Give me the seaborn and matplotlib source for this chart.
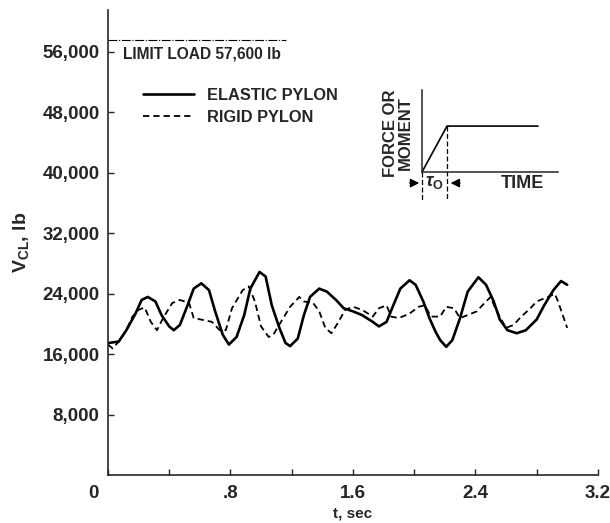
import numpy as np
import pandas as pd
import matplotlib
matplotlib.use("Agg")
import matplotlib.pyplot as plt
import matplotlib.transforms as mtransforms
import seaborn as sns

# elastic pylon (solid), V in thousands of lb
t_elastic = [0.00, 0.07, 0.12, 0.18, 0.22, 0.26, 0.31, 0.35, 0.40, 0.43, 0.47, 0.52, 0.56,
             0.61, 0.66, 0.70, 0.75, 0.79, 0.84, 0.89, 0.93, 0.99, 1.03, 1.07, 1.12,
             1.16, 1.19, 1.24, 1.28, 1.32, 1.38, 1.43, 1.49, 1.54, 1.60, 1.66, 1.73,
             1.77, 1.82, 1.86, 1.91, 1.97, 2.01, 2.06, 2.10, 2.14, 2.17, 2.21, 2.25,
             2.30, 2.35, 2.42, 2.47, 2.52, 2.56, 2.61, 2.67, 2.73, 2.80, 2.85, 2.91,
             2.96, 3.00]
v_elastic = [17.5, 17.7, 19.2, 21.4, 23.2, 23.6, 23.0, 21.2, 19.7, 19.2, 19.9, 22.5, 24.7,
             25.4, 24.5, 21.7, 18.6, 17.3, 18.3, 21.2, 24.7, 26.9, 26.3, 22.5, 19.5,
             17.5, 17.1, 18.1, 21.2, 23.6, 24.7, 24.3, 23.2, 22.1, 21.7, 21.2, 20.3,
             19.7, 20.3, 22.3, 24.7, 25.8, 25.2, 23.0, 20.8, 19.0, 17.9, 17.0, 17.9,
             20.8, 24.3, 26.2, 25.2, 23.0, 20.6, 19.2, 18.8, 19.2, 20.6, 22.5, 24.5,
             25.7, 25.2]

# rigid pylon (dashed)
t_rigid = [0.00, 0.03, 0.08, 0.12, 0.16, 0.20, 0.24, 0.28, 0.32, 0.36, 0.42, 0.47, 0.53,
           0.56, 0.61, 0.68, 0.73, 0.77, 0.81, 0.88, 0.92, 0.96, 1.00, 1.05, 1.08,
           1.13, 1.19, 1.25, 1.28, 1.34, 1.38, 1.42, 1.46, 1.50, 1.55, 1.60, 1.66,
           1.73, 1.77, 1.82, 1.85, 1.90, 1.97, 2.03, 2.07, 2.11, 2.17, 2.21, 2.26,
           2.30, 2.35, 2.41, 2.46, 2.50, 2.53, 2.57, 2.60, 2.65, 2.70, 2.76, 2.80,
           2.85, 2.92, 2.94, 3.00]
v_rigid = [17.3, 16.8, 17.9, 19.2, 21.0, 21.9, 22.2, 20.3, 19.2, 20.8, 22.8, 23.2, 22.8,
           20.8, 20.6, 20.3, 19.2, 19.2, 22.1, 24.5, 25.0, 23.0, 19.7, 18.3, 18.6,
           20.3, 22.3, 23.6, 23.0, 22.8, 21.7, 19.5, 18.8, 20.1, 21.9, 22.3, 21.9,
           21.0, 22.1, 22.5, 21.0, 20.8, 21.4, 22.3, 22.5, 21.0, 21.0, 22.3, 22.1,
           20.8, 21.2, 21.7, 22.8, 23.6, 22.1, 20.6, 19.5, 19.9, 21.0, 22.1, 23.0,
           23.4, 24.0, 23.0, 19.5]

limit_load = 57600
limit_line_end = 1.16
x_major = [0, 0.8, 1.6, 2.4, 3.2]
x_major_labels = ["0", ".8", "1.6", "2.4", "3.2"]
x_minor = [0.4, 1.2, 2.0, 2.8]
y_ticks = [8000, 16000, 24000, 32000, 40000, 48000, 56000]

df = pd.concat([
    pd.DataFrame({"t": t_elastic, "V": np.array(v_elastic) * 1000, "case": "ELASTIC PYLON"}),
    pd.DataFrame({"t": t_rigid, "V": np.array(v_rigid) * 1000, "case": "RIGID PYLON"}),
])

sns.set_style("ticks")
plt.rcParams["font.family"] = ["Liberation Sans", "DejaVu Sans"]
plt.rcParams["mathtext.fontset"] = "custom"
plt.rcParams["mathtext.rm"] = "Liberation Sans:bold"
plt.rcParams["mathtext.it"] = "Liberation Sans:italic:bold"

fig = plt.figure(figsize=(6.1, 5.23), dpi=100)
ax = fig.add_axes([0.177, 0.091, 0.803, 0.890])

el = df[df["case"] == "ELASTIC PYLON"]
rg = df[df["case"] == "RIGID PYLON"]
sns.lineplot(data=el, x="t", y="V", color="black", lw=1.9, label="ELASTIC PYLON",
             sort=False, ax=ax, solid_joinstyle="round", solid_capstyle="round")
sns.lineplot(data=rg, x="t", y="V", color="black", lw=1.3, linestyle=(0, (3.5, 2.2)),
             label="RIGID PYLON", sort=False, ax=ax)

ax.hlines(limit_load, 0, limit_line_end, color="black", lw=0.8,
          linestyle=(0, (8, 1.5, 1, 1.5)))
ax.text(0.031, 0.905, "LIMIT LOAD 57,600 lb", transform=ax.transAxes, fontsize=11.2,
        fontweight="bold", va="center", ha="left")

ax.set_xlim(0, 3.2)
ax.set_ylim(0, 61550)
ax.set_xticks(x_major)
ax.set_xticklabels(x_major_labels, fontsize=13.5, fontweight="bold")
ax.set_xticks(x_minor, minor=True)
ax.set_yticks(y_ticks)
ax.set_yticklabels([f"{v:,}" for v in y_ticks], fontsize=13.5, fontweight="bold")
ax.tick_params(axis="x", which="both", direction="in", length=4, width=1, pad=7)
ax.tick_params(axis="y", direction="in", length=4, width=1, pad=6)
off = mtransforms.ScaledTranslation(-0.15, 0, fig.dpi_scale_trans)
lab0 = ax.get_xticklabels()[0]
lab0.set_transform(lab0.get_transform() + off)

ax.set_xlabel("t, sec", fontsize=11, fontweight="bold", labelpad=3)
ax.set_ylabel(r"V$_{\rm CL}$, lb", fontsize=14, fontweight="bold", labelpad=8)
sns.despine(ax=ax)
for s in ["left", "bottom"]:
    ax.spines[s].set_linewidth(1.2)

leg = ax.legend(loc="upper left", bbox_to_anchor=(0.041, 0.864), frameon=False,
                handlelength=3.1, handletextpad=0.8, labelspacing=0.42,
                prop={"size": 11.8, "weight": "bold"})

# inset schematic: force vs time ramp
ins = fig.add_axes([422 / 610, 1 - 172 / 523, 136 / 610, 82 / 523])
ins.plot([0, 0.184, 0.853], [0, 0.56, 0.56], color="black", lw=1.2)
ins.plot([0.184, 0.184], [0.56, -0.34], color="black", lw=0.9, ls=(0, (4, 2)),
         clip_on=False)
ins.plot([0, 0], [0, -0.34], color="black", lw=0.9, ls=(0, (4, 2)), clip_on=False)
ins.set_xlim(0, 1)
ins.set_ylim(0, 1)
ins.set_xticks([])
ins.set_yticks([])
for s in ["top", "right"]:
    ins.spines[s].set_visible(False)
for s in ["left", "bottom"]:
    ins.spines[s].set_linewidth(1.1)
ins.patch.set_alpha(0)
ins.annotate("", xy=(0, -0.135), xytext=(-0.11, -0.135),
             arrowprops=dict(arrowstyle="-|>", color="black", lw=1, mutation_scale=13),
             annotation_clip=False)
ins.annotate("", xy=(0.19, -0.135), xytext=(0.30, -0.135),
             arrowprops=dict(arrowstyle="-|>", color="black", lw=1, mutation_scale=13),
             annotation_clip=False)
ins.text(0.09, -0.13, r"$\tau_{\rm O}$", fontsize=13, ha="center", va="center",
         clip_on=False)
ins.text(0.735, -0.135, "TIME", fontsize=13, fontweight="bold", ha="center",
         va="center", clip_on=False)
ins.text(-0.18, 0.47, "FORCE OR\nMOMENT", fontsize=12, fontweight="bold", rotation=90,
         ha="center", va="center", linespacing=1.0, clip_on=False)

fig.savefig("out.png", dpi=100)
